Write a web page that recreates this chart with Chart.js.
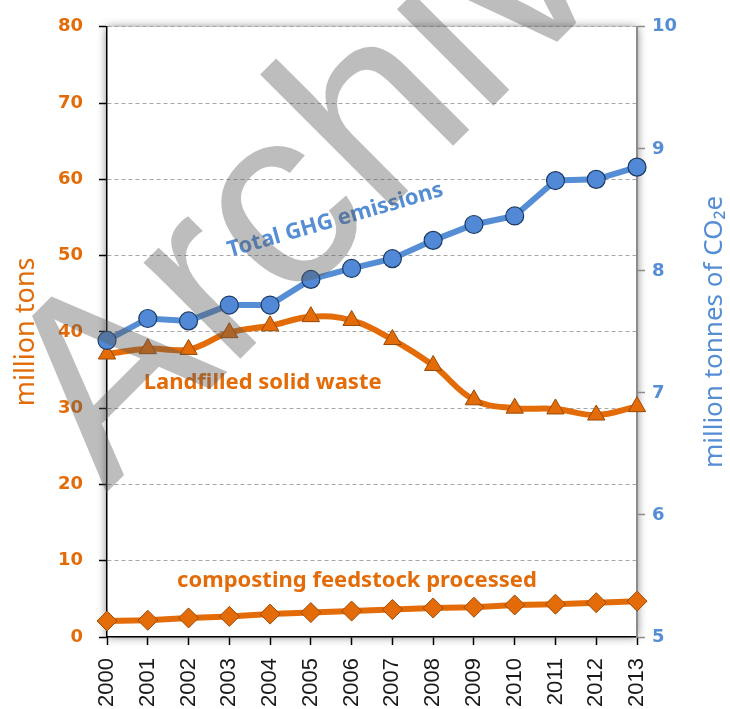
<!DOCTYPE html>
<html>
<head>
<meta charset="utf-8">
<script src="https://cdn.jsdelivr.net/npm/chart.js@4/dist/chart.umd.min.js"></script>
<style>
  html, body { margin: 0; padding: 0; background: #fff; }
  #wrap { width: 730px; height: 709px; }
</style>
</head>
<body>
<div id="wrap"><canvas id="chart" width="730" height="709"></canvas></div>
<script>
const years = ['2000', '2001', '2002', '2003', '2004', '2005', '2006', '2007', '2008', '2009', '2010', '2011', '2012', '2013'];
// million tonnes CO2e (right axis)
const ghgEmissions = [7.43, 7.61, 7.59, 7.72, 7.72, 7.93, 8.02, 8.10, 8.25, 8.38, 8.45, 8.74, 8.75, 8.85];
// million tons (left axis)
const landfilled = [37.1, 37.8, 37.7, 39.9, 40.8, 42.0, 41.5, 39.0, 35.6, 31.1, 30.0, 29.9, 29.1, 30.2];
const composting = [2.1, 2.2, 2.5, 2.7, 3.0, 3.2, 3.4, 3.6, 3.8, 3.9, 4.2, 4.3, 4.5, 4.7];

const leftRange = [0, 80, 10];
const rightRange = [5, 10, 1];

const orange = '#e36c09';
const orangeDark = '#9a4a06';
const blue = '#558ed5';
const blueDark = '#1c3a63';

// in-chart labels, anchored to category index / left-axis value
const notes = [
  { text: 'Total GHG emissions', x: 2.97, y: 50.6, angle: -16, size: 22, color: blue },
  { text: 'Landfilled solid waste', x: 0.9, y: 33.4, angle: 0, size: 22, color: orange },
  { text: 'composting feedstock processed', x: 1.72, y: 7.4, angle: 0, size: 22, color: orange },
];

const plotShadow = {
  id: 'plotShadow',
  beforeDraw(chart) {
    const { ctx, chartArea: a } = chart;
    ctx.save();
    ctx.shadowColor = 'rgba(0,0,0,0.55)';
    ctx.shadowBlur = 9;
    ctx.fillStyle = '#fff';
    ctx.fillRect(a.left, a.top, a.right - a.left, a.bottom - a.top);
    ctx.restore();
  }
};

const noteLabels = {
  id: 'noteLabels',
  afterDatasetsDraw(chart) {
    const { ctx, scales } = chart;
    notes.forEach(n => {
      const px = scales.x.getPixelForValue(n.x);
      const py = scales.yL.getPixelForValue(n.y);
      ctx.save();
      ctx.translate(px, py);
      ctx.rotate(n.angle * Math.PI / 180);
      ctx.font = 'bold ' + n.size + 'px "Noto Sans"';
      ctx.fillStyle = n.color;
      ctx.textAlign = 'left';
      ctx.textBaseline = 'middle';
      ctx.fillText(n.text, 0, 0);
      ctx.restore();
    });
  }
};

const axisTitles = {
  id: 'axisTitles',
  afterDraw(chart) {
    const { ctx, chartArea: a } = chart;
    const cy = (a.top + a.bottom) / 2;
    ctx.save();
    ctx.textAlign = 'center';
    ctx.textBaseline = 'middle';
    ctx.font = '27px "Noto Sans"';
    ctx.fillStyle = orange;
    ctx.translate(26, cy);
    ctx.rotate(-Math.PI / 2);
    ctx.fillText('million tons', 0, 0);
    ctx.restore();

    ctx.save();
    ctx.textAlign = 'center';
    ctx.textBaseline = 'middle';
    ctx.font = '26px "Noto Sans"';
    ctx.fillStyle = blue;
    ctx.translate(715, cy);
    ctx.rotate(-Math.PI / 2);
    ctx.fillText('million tonnes of CO\u2082e', 0, 0);
    ctx.restore();
  }
};

const watermark = {
  id: 'watermark',
  afterDraw(chart) {
    const { ctx } = chart;
    ctx.save();
    ctx.translate(106, 493);
    ctx.rotate(-Math.PI / 4);
    ctx.font = '258px "Liberation Sans"';
    ctx.fillStyle = 'rgba(90,90,90,0.4)';
    ctx.textAlign = 'left';
    ctx.textBaseline = 'alphabetic';
    ctx.fillText('Archived', 0, 0);
    ctx.restore();
  }
};

new Chart(document.getElementById('chart').getContext('2d'), {
  type: 'line',
  data: {
    labels: years,
    datasets: [
      {
        label: 'Total GHG emissions',
        data: ghgEmissions,
        yAxisID: 'yR',
        borderColor: blue,
        borderWidth: 6,
        tension: 0,
        pointStyle: 'circle',
        pointRadius: 9,
        pointBackgroundColor: '#5189d6',
        pointBorderColor: blueDark,
        pointBorderWidth: 1.2,
        clip: false,
        order: 0,
      },
      {
        label: 'Landfilled solid waste',
        data: landfilled,
        yAxisID: 'yL',
        borderColor: orange,
        borderWidth: 6,
        tension: 0.4,
        pointStyle: 'triangle',
        pointRadius: 10,
        pointBackgroundColor: orange,
        pointBorderColor: orangeDark,
        pointBorderWidth: 1,
        clip: false,
        order: 1,
      },
      {
        label: 'composting feedstock processed',
        data: composting,
        yAxisID: 'yL',
        borderColor: orange,
        borderWidth: 6,
        tension: 0,
        pointStyle: 'rectRot',
        pointRadius: 10,
        pointBackgroundColor: orange,
        pointBorderColor: orangeDark,
        pointBorderWidth: 1,
        clip: false,
        order: 2,
      },
    ],
  },
  options: {
    responsive: false,
    animation: false,
    devicePixelRatio: 1,
    layout: { padding: { top: 22, left: 0, right: 0, bottom: 0 } },
    plugins: {
      legend: { display: false },
      tooltip: { enabled: false },
    },
    scales: {
      x: {
        type: 'category',
        offset: false,
        grid: { drawOnChartArea: false, tickLength: 8, tickColor: '#000', tickWidth: 1.5 },
        border: { color: '#000', width: 1.5 },
        ticks: {
          autoSkip: false,
          minRotation: 90,
          maxRotation: 90,
          padding: 13,
          color: '#1a1a1a',
          font: { family: '"Liberation Sans"', size: 22 },
        },
        afterFit: s => { s.height = 72; },
      },
      yL: {
        position: 'left',
        min: leftRange[0],
        max: leftRange[1],
        ticks: {
          stepSize: leftRange[2],
          padding: 16,
          color: orange,
          font: { family: '"DejaVu Sans"', size: 18, weight: 'bold' },
        },
        grid: {
          color: ctx => ctx.tick && ctx.tick.value === 0 ? 'rgba(0,0,0,0)' : '#a6a6a6',
          lineWidth: 1,
          tickColor: '#000',
          tickLength: 8,
          tickWidth: 1.5,
        },
        border: { color: '#000', width: 1.5, dash: [4, 3] },
        afterFit: s => { s.width = 107; },
      },
      yR: {
        position: 'right',
        min: rightRange[0],
        max: rightRange[1],
        ticks: {
          stepSize: rightRange[2],
          padding: 7,
          color: blue,
          font: { family: '"DejaVu Sans"', size: 18, weight: 'bold' },
        },
        grid: { drawOnChartArea: false, tickColor: '#8c8c8c', tickLength: 8, tickWidth: 1.5 },
        border: { color: '#8c8c8c', width: 2 },
        afterFit: s => { s.width = 93; },
      },
    },
  },
  plugins: [plotShadow, noteLabels, axisTitles, watermark],
});
</script>
</body>
</html>
